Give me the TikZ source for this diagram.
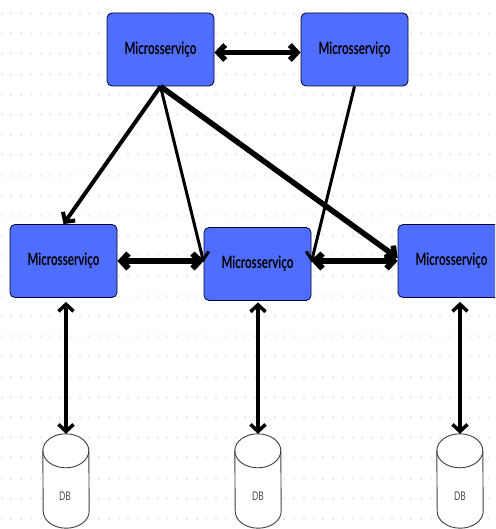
\documentclass[tikz,border=0pt]{standalone}
\usepackage{fontspec}
\setmainfont{Lato}
\usepackage{amsmath}
\usetikzlibrary{arrows.meta}

\definecolor{boxblue}{HTML}{4F6EFF}
\definecolor{dotgrey}{HTML}{EEF0F6}

\tikzset{
    service/.style={rectangle, draw=black!80!blue, line width=0.8pt, fill=boxblue, rounded corners=5pt,
        minimum width=107pt, minimum height=73pt, inner sep=0pt, font=\fontsize{17}{19}\selectfont\bfseries},
    database/.style={rectangle, minimum width=46pt, minimum height=94pt, inner sep=0pt},
    dbline/.style={draw=black!75, line width=0.9pt, fill=white},
    dblabel/.style={inner sep=0pt, font=\fontsize{12}{14}\selectfont, text=black!70},
    link/.style={line width=#1, {Straight Barb[length=7pt,width=15pt]}-{Straight Barb[length=7pt,width=15pt]}},
    call/.style={line width=#1, -{Straight Barb[length=7pt,width=15pt]}}
}
\newcommand{\svc}{\scalebox{0.68}[1]{Microsserviço}}
\newcommand{\dbtext}{\scalebox{0.7}[1]{DB}}

\begin{document}
\begin{tikzpicture}[x=1pt, y=-1pt]
        \useasboundingbox (0,0) rectangle (495,529);
        \clip (0,0) rectangle (495,529);

        % Grid of dots
        \foreach \i in {0,...,50}
            \foreach \j in {0,...,25}
                \fill[dotgrey] (0.5+9.75*\i,12+20.2*\j) rectangle (2.5+9.75*\i,15+20.2*\j);

        % Services
        \node[service] (topleft) at (160.5,49.5) {\svc};
        \node[service] (topright) at (354.5,49.5) {\svc};
        \node[service] (midleft) at (63.5,261) {\svc};
        \node[service] (mid) at (257.5,264) {\svc};
        \node[service] (midright) at (451.5,261) {\svc};

        % Databases
        \node[database] (dbleft) at (66,481) {};
        \node[database] (dbmid) at (258,481) {};
        \node[database] (dbright) at (460,481) {};
        \foreach \db in {dbleft,dbmid,dbright} {
            \draw[dbline] ([yshift=-17pt]\db.north west) arc[start angle=180, end angle=0, x radius=23pt, y radius=17pt]
                -- ([yshift=17pt]\db.south east) arc[start angle=0, end angle=-180, x radius=23pt, y radius=17pt] -- cycle;
            \draw[dbline, fill=none] ([yshift=-17pt]\db.north west) arc[start angle=180, end angle=360, x radius=23pt, y radius=17pt];
        }
        \node[dblabel] (dbleftname) at (65,496) {\dbtext};
        \node[dblabel] (dbmidname) at (258,496) {\dbtext};
        \node[dblabel] (dbrightname) at (460,496) {\dbtext};

        % Arrows
        \draw[link=5.5pt] ([yshift=-3pt]topleft.east) -- ([yshift=-3pt]topright.west);
        \draw[call=4pt] (topleft.south) -- (midleft.north);
        \draw[call=3pt] (topleft.south) -- ([yshift=2pt]mid.west);
        \draw[call=5.5pt] (topleft.south) -- ([yshift=3pt]midright.west);
        \draw[call=3pt] (topright.south) -- ([yshift=2pt]mid.east);
        \draw[link=6pt] (midleft.east) -- ([yshift=3pt]mid.west);
        \draw[link=6pt] ([yshift=3pt]mid.east) -- (midright.west);
        \draw[link=3.5pt] ([yshift=-4pt]midleft.south -| dbleft.north) -- (dbleft.north);
        \draw[link=3.5pt] ([yshift=-1.5pt]mid.south -| dbmid.north) -- (dbmid.north);
        \draw[link=3.5pt] ([yshift=-4pt]midright.south -| dbright.north) -- (dbright.north);
    \end{tikzpicture}
\end{document}
